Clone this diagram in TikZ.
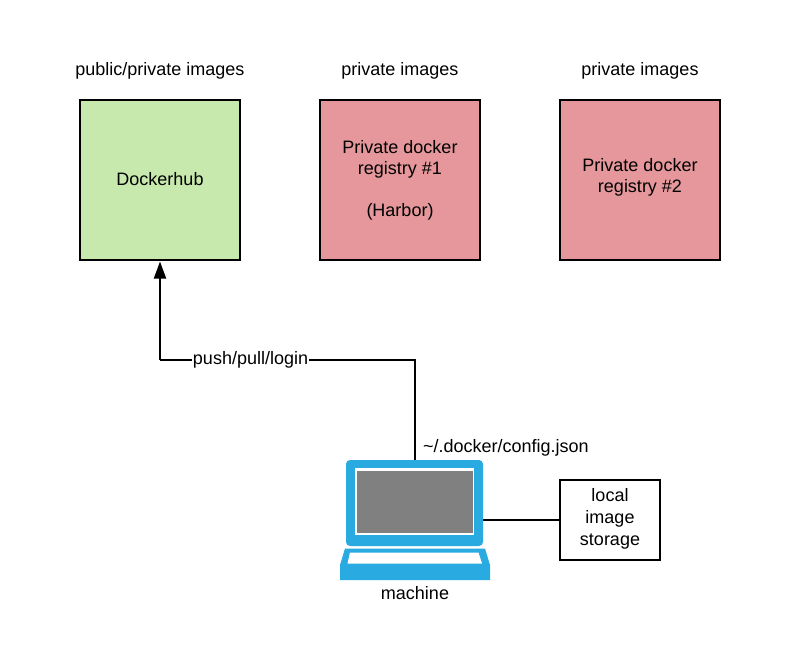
\documentclass[tikz,border=0pt]{standalone}
\usepackage{fontspec}
\setmainfont{Liberation Sans}
\usetikzlibrary{arrows.meta}
\definecolor{hubgreen}{HTML}{C7E9AD}
\definecolor{regred}{HTML}{E5979B}
\definecolor{lapblue}{HTML}{29ABE2}
\definecolor{lapgray}{HTML}{808080}
\tikzset{
  txt/.style={font=\fontsize{18}{21.6}\selectfont,align=center,inner sep=0pt,outer sep=0pt},
  regbox/.style={draw=black,line width=2pt,minimum width=160pt,minimum height=160pt,inner sep=0pt,outer sep=0pt},
  store/.style={draw=black,line width=2pt,minimum width=100pt,minimum height=80pt,inner sep=0pt,outer sep=0pt},
  conn/.style={draw=black,line width=2pt},
  lbl/.style={txt,fill=white,inner xsep=0.5pt,inner ysep=1pt},
}
\begin{document}
\begin{tikzpicture}[x=1pt,y=-1pt]
\useasboundingbox (0,0) rectangle (800,650);
\fill[white] (0,0) rectangle (800,650);
% titles
\node[txt] (t1) at (160,70.8) {public/private images};
\node[txt] (t2) at (400,70.8) {private images};
\node[txt] (t3) at (640,70.8) {private images};
% registries
\node[regbox,fill=hubgreen] (hub) at (160,180) {};
\node[txt] (hubtxt) at (160,179.2) {Dockerhub};
\node[regbox,fill=regred] (r1) at (400,180) {};
\node[txt] (r1txt) at (400,180) {Private docker\\registry \#1\\[20pt](Harbor)};
\node[regbox,fill=regred] (r2) at (640,180) {};
\node[txt] (r2txt) at (640,177.3) {Private docker\\registry \#2};
% storage
\node[store] (st) at (610,520) {};
\node[txt] (sttxt) at (610,518.8) {local\\image\\storage};
% laptop body
\node[fill=lapblue,rounded corners=4pt,minimum width=137pt,minimum height=86pt,inner sep=0pt,outer sep=0pt] (body) at (414.5,503) {};
\fill[white] (355,468.3) rectangle (474,535);
\node[fill=lapgray,minimum width=116.5pt,minimum height=62pt,inner sep=0pt,outer sep=0pt] (scr) at (415,501.7) {};
% laptop base
\fill[lapblue] (345,548.5) -- (485,548.5) -- (490,565) -- (490,580) -- (340,580) -- (340,565) -- cycle;
\fill[white] (350,552.5) -- (478.5,552.5) -- (482,563.5) -- (347.5,563.5) -- cycle;
\node[txt] (mach) at (415,593.3) {machine};
\node[txt,anchor=west] (cfg) at (423,448.3) {\textasciitilde/.docker/config.json};
% connectors
\coordinate (b1) at (415,360);
\coordinate (b2) at (hub.south |- b1);
\draw[conn] (b1 |- body.north) -- (b1) -- node[lbl,pos=0.645] (push) {push/pull/login} (b2);
\draw[conn,-{Triangle[length=17pt,width=12pt]},shorten >=1.5pt] (b2) -- (hub.south);
\draw[conn] (body.east |- st.west) -- (st.west);
\end{tikzpicture}
\end{document}
